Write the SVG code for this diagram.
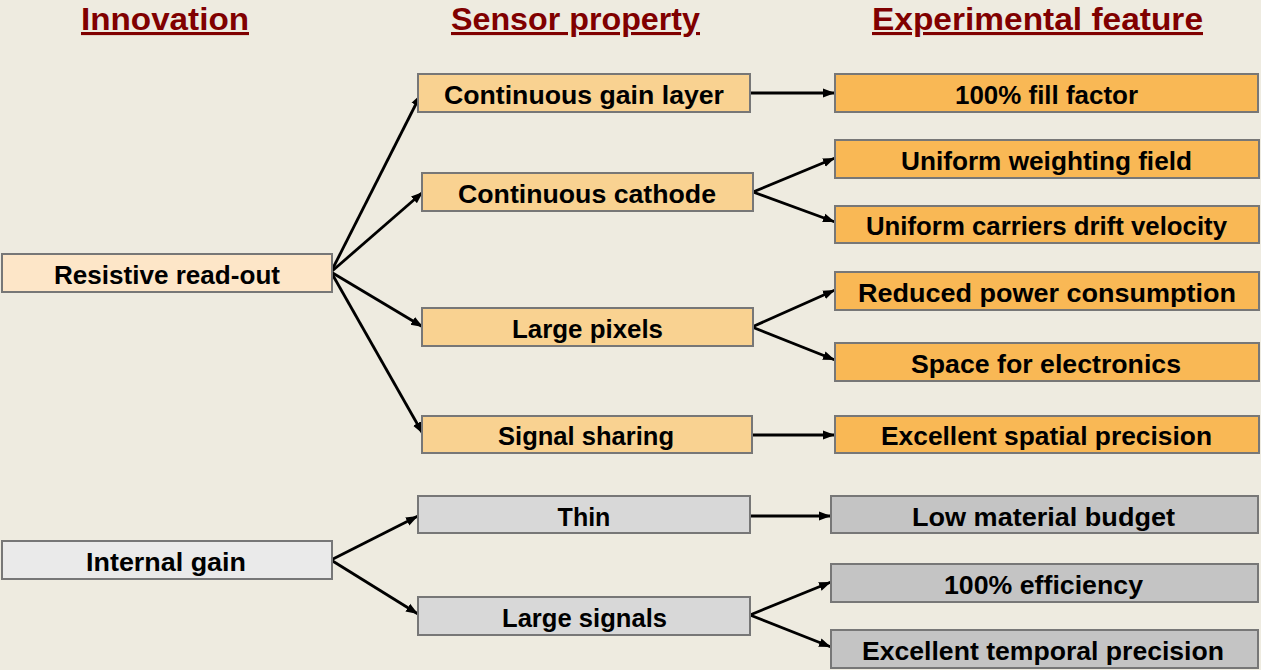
<svg xmlns="http://www.w3.org/2000/svg" width="1261" height="670" viewBox="0 0 1261 670">
<defs>
<marker id="ah" markerUnits="userSpaceOnUse" markerWidth="13" markerHeight="11" refX="12" refY="5.5" orient="auto">
<path d="M0,1 L12,5.5 L0,10 Z" fill="#000"/>
</marker>
<style>
.hdr{font-family:"Liberation Sans",Arial,sans-serif;font-weight:bold;font-size:31px;fill:#800000;text-decoration:underline}
.t{font-family:"Liberation Sans",Arial,sans-serif;font-weight:bold;font-size:25px;fill:#000;text-anchor:middle}
.b{stroke:#777;stroke-width:2}
.c1{fill:#fde6c8}.c2{fill:#f9d291}.c3{fill:#f9b855}
.g1{fill:#eaeaea}.g2{fill:#d8d8d8}.g3{fill:#c4c4c4}
.e{stroke:#000;stroke-width:2.8;fill:none;marker-end:url(#ah)}
</style>
</defs>
<rect width="1261" height="670" fill="#eeebe0"/>
<g id="headers">
<text class="hdr" x="81" y="30" textLength="168" lengthAdjust="spacingAndGlyphs">Innovation</text>
<text class="hdr" x="451" y="30" textLength="249" lengthAdjust="spacingAndGlyphs">Sensor property</text>
<text class="hdr" x="872" y="30" textLength="331" lengthAdjust="spacingAndGlyphs">Experimental feature</text>
</g>
<g id="connectors">
<line class="e" x1="331" y1="272" x2="421" y2="94"/>
<line class="e" x1="331" y1="272" x2="423" y2="192"/>
<line class="e" x1="331" y1="272" x2="423" y2="327"/>
<line class="e" x1="331" y1="272" x2="423" y2="434"/>
<line class="e" x1="750" y1="93" x2="835" y2="93"/>
<line class="e" x1="753" y1="192" x2="835" y2="158"/>
<line class="e" x1="753" y1="192" x2="835" y2="222"/>
<line class="e" x1="752" y1="327" x2="835" y2="290"/>
<line class="e" x1="752" y1="327" x2="835" y2="360"/>
<line class="e" x1="752" y1="435" x2="835" y2="435"/>
<line class="e" x1="331" y1="560" x2="418" y2="516"/>
<line class="e" x1="331" y1="560" x2="418" y2="614"/>
<line class="e" x1="750" y1="516" x2="831" y2="516"/>
<line class="e" x1="750" y1="615" x2="831" y2="582"/>
<line class="e" x1="750" y1="615" x2="831" y2="647"/>
</g>
<g id="n-resistive"><rect class="b c1" x="2" y="254" width="330" height="38"/><text class="t" x="167" y="284" textLength="226" lengthAdjust="spacingAndGlyphs">Resistive read-out</text></g>
<g id="n-internal"><rect class="b g1" x="2" y="541" width="330" height="38"/><text class="t" x="166" y="571" textLength="160" lengthAdjust="spacingAndGlyphs">Internal gain</text></g>
<g id="n-cgl"><rect class="b c2" x="418" y="74" width="332" height="38"/><text class="t" x="584" y="104" textLength="280" lengthAdjust="spacingAndGlyphs">Continuous gain layer</text></g>
<g id="n-cc"><rect class="b c2" x="422" y="173" width="331" height="38"/><text class="t" x="587" y="203" textLength="258" lengthAdjust="spacingAndGlyphs">Continuous cathode</text></g>
<g id="n-lp"><rect class="b c2" x="422" y="308" width="331" height="38"/><text class="t" x="587.5" y="338" textLength="151" lengthAdjust="spacingAndGlyphs">Large pixels</text></g>
<g id="n-ss"><rect class="b c2" x="422" y="416" width="330" height="37"/><text class="t" x="586" y="445" textLength="176" lengthAdjust="spacingAndGlyphs">Signal sharing</text></g>
<g id="n-thin"><rect class="b g2" x="418" y="496" width="332" height="37"/><text class="t" x="584" y="526">Thin</text></g>
<g id="n-ls"><rect class="b g2" x="418" y="597" width="332" height="38"/><text class="t" x="584.5" y="627" textLength="165" lengthAdjust="spacingAndGlyphs">Large signals</text></g>
<g id="n-fill"><rect class="b c3" x="835" y="74" width="423" height="38"/><text class="t" x="1046.5" y="104" textLength="183" lengthAdjust="spacingAndGlyphs">100% fill factor</text></g>
<g id="n-uwf"><rect class="b c3" x="835" y="140" width="424" height="38"/><text class="t" x="1046.5" y="170" textLength="291" lengthAdjust="spacingAndGlyphs">Uniform weighting field</text></g>
<g id="n-ucdv"><rect class="b c3" x="835" y="206" width="424" height="37"/><text class="t" x="1046.5" y="235" textLength="361" lengthAdjust="spacingAndGlyphs">Uniform carriers drift velocity</text></g>
<g id="n-rpc"><rect class="b c3" x="835" y="272" width="424" height="38"/><text class="t" x="1047" y="302" textLength="378" lengthAdjust="spacingAndGlyphs">Reduced power consumption</text></g>
<g id="n-sfe"><rect class="b c3" x="835" y="343" width="424" height="38"/><text class="t" x="1046" y="373" textLength="270" lengthAdjust="spacingAndGlyphs">Space for electronics</text></g>
<g id="n-esp"><rect class="b c3" x="835" y="416" width="424" height="37"/><text class="t" x="1046.5" y="445" textLength="331" lengthAdjust="spacingAndGlyphs">Excellent spatial precision</text></g>
<g id="n-lmb"><rect class="b g3" x="831" y="496" width="427" height="37"/><text class="t" x="1043.5" y="526" textLength="263" lengthAdjust="spacingAndGlyphs">Low material budget</text></g>
<g id="n-eff"><rect class="b g3" x="831" y="564" width="427" height="38"/><text class="t" x="1043.5" y="594" textLength="199" lengthAdjust="spacingAndGlyphs">100% efficiency</text></g>
<g id="n-etp"><rect class="b g3" x="831" y="630" width="427" height="38"/><text class="t" x="1043" y="660" textLength="362" lengthAdjust="spacingAndGlyphs">Excellent temporal precision</text></g>
</svg>
